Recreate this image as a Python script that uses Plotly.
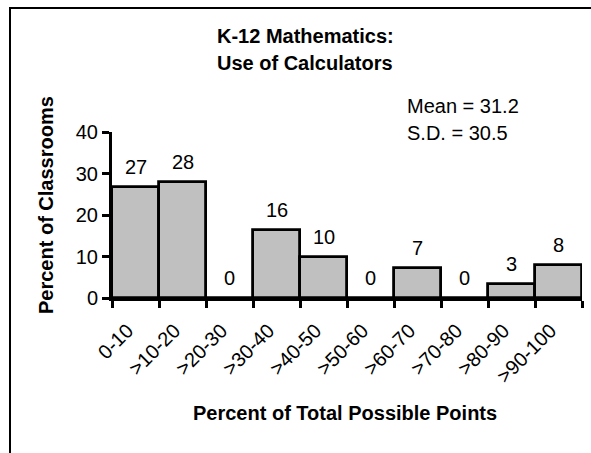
import plotly.graph_objects as go

# Score bins and share of classrooms in each bin
categories = ["0-10", ">10-20", ">20-30", ">30-40", ">40-50",
              ">50-60", ">60-70", ">70-80", ">80-90", ">90-100"]
percent_classrooms = [26.7, 27.9, 0, 16.4, 9.9, 0, 7.2, 0, 3.4, 8.0]
y_ticks = [0, 10, 20, 30, 40]

title_lines = ["K-12 Mathematics:", "Use of Calculators"]
stats_lines = ["Mean = 31.2", "S.D. = 30.5"]

W, H = 591, 453
L, R, T, B = 112, 582, 132, 298   # plot area edges in pixels

FONT = "Arial, Liberation Sans, Helvetica, sans-serif"
TEXT_SIZE = 20


def px_x(x):
    return (x - L) / (R - L)


def px_y(y):
    return (B - y) / (B - T)


fig = go.Figure()
fig.add_trace(go.Bar(
    x=categories,
    y=percent_classrooms,
    marker=dict(color="#c0c0c0", line=dict(color="black", width=2.8)),
    width=1.0,
    cliponaxis=False,
    hoverinfo="x+y",
))

annotations = []
# value labels above each bar
for c, v in zip(categories, percent_classrooms):
    annotations.append(dict(
        x=c, y=v, xref="x", yref="y", text=f"{v:.0f}", showarrow=False,
        yshift=20, yanchor="middle", xanchor="center",
        font=dict(family=FONT, size=TEXT_SIZE, color="black"),
    ))

# chart title, two lines
for text, yc in zip(title_lines, [36, 63]):
    annotations.append(dict(
        x=px_x(305), y=px_y(yc), xref="paper", yref="paper",
        text=f"<b>{text}</b>", showarrow=False,
        xanchor="center", yanchor="middle",
        font=dict(family=FONT, size=TEXT_SIZE, color="black"),
    ))

# summary statistics
for text, yc in zip(stats_lines, [106, 133]):
    annotations.append(dict(
        x=px_x(405), y=px_y(yc), xref="paper", yref="paper",
        text=text, showarrow=False, xanchor="left", yanchor="middle",
        font=dict(family=FONT, size=TEXT_SIZE, color="black"),
    ))

# axis titles
annotations.append(dict(
    x=px_x(345), y=px_y(413), xref="paper", yref="paper",
    text="<b>Percent of Total Possible Points</b>", showarrow=False,
    xanchor="center", yanchor="middle",
    font=dict(family=FONT, size=TEXT_SIZE, color="black"),
))
annotations.append(dict(
    x=px_x(46), y=px_y(205), xref="paper", yref="paper",
    text="<b>Percent of Classrooms</b>", showarrow=False, textangle=-90,
    xanchor="center", yanchor="middle",
    font=dict(family=FONT, size=TEXT_SIZE, color="black"),
))

fig.update_layout(
    width=W, height=H,
    margin=dict(l=L, r=W - R, t=T, b=H - B, pad=0),
    paper_bgcolor="white", plot_bgcolor="white",
    showlegend=False,
    bargap=0,
    annotations=annotations,
    shapes=[dict(
        type="rect", xref="paper", yref="paper",
        x0=px_x(10), x1=px_x(620), y0=px_y(480), y1=px_y(8),
        line=dict(color="black", width=2), fillcolor="rgba(0,0,0,0)",
        layer="above",
    )],
    font=dict(family=FONT, color="black"),
)

fig.update_xaxes(
    type="category",
    showline=True, linecolor="black", linewidth=3,
    ticks="outside", ticklen=7, tickwidth=2.5, tickcolor="black",
    tickson="boundaries", tickangle=-45,
    ticklabelstandoff=10, ticklabelshift=-8,
    tickfont=dict(family=FONT, size=TEXT_SIZE, color="black"),
    showgrid=False, zeroline=False,
)
fig.update_yaxes(
    range=[0, 40], tickvals=y_ticks,
    showline=True, linecolor="black", linewidth=3,
    ticks="outside", ticklen=7, tickwidth=2.5, tickcolor="black",
    tickfont=dict(family=FONT, size=TEXT_SIZE, color="black"),
    showgrid=False, zeroline=False,
)

fig.write_html("out.html")
